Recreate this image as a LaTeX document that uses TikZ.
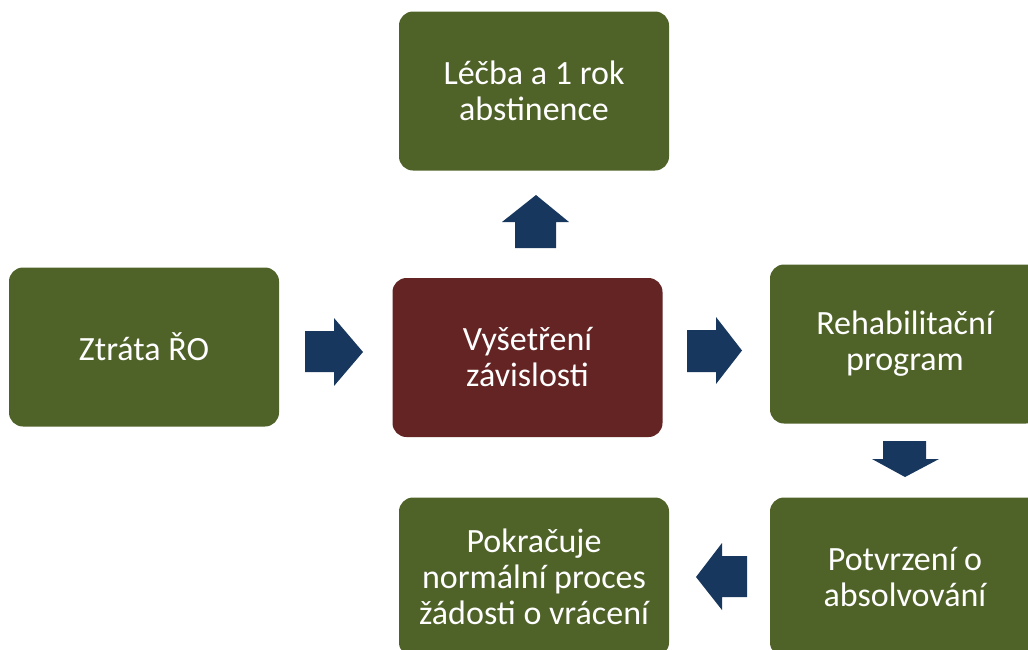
\documentclass[tikz,border=0pt]{standalone}
\usepackage{fontspec}
\setmainfont{Carlito}
\definecolor{boxgreen}{HTML}{4F6228}
\definecolor{boxred}{HTML}{632423}
\definecolor{arrowblue}{HTML}{17375E}
\begin{document}
\begin{tikzpicture}[x=1pt,y=-1pt,
  box/.style={fill=boxgreen,rounded corners=14pt,minimum width=270pt,minimum height=159pt,
    text=white,align=center,inner sep=0pt,font=\fontsize{34}{36}\selectfont},
  blockarrow/.style={fill=arrowblue,draw=none}]
\useasboundingbox (0,0) rectangle (1028,649);
\clip (0,0) rectangle (1028,649);
\node[box] (treat) at (534,91) {Léčba a 1 rok\\abstinence};
\node[box] (loss) at (144,347) {Ztráta ŘO};
\node[box,fill=boxred] (exam) at (527.5,357.5) {Vyšetření\\závislosti};
\node[box] (rehab) at (905,344) {Rehabilitační\\program};
\node[box] (confirm) at (905,577) {Potvrzení o\\absolvování};
\node[box] (cont) at (534,577) {Pokračuje\\normální proces\\žádosti o vrácení};
% up arrow
\fill[blockarrow] (515,248) -- (515,222) -- (502,222) -- (536,195) -- (569,222) -- (556,222) -- (556,248) -- cycle;
% right arrow 1
\fill[blockarrow] (305,331) -- (334,331) -- (334,318) -- (363,352) -- (334,386) -- (334,372) -- (305,372) -- cycle;
% right arrow 2
\fill[blockarrow] (687,330) -- (716,330) -- (716,317) -- (742,350.5) -- (716,384) -- (716,372) -- (687,372) -- cycle;
% down arrow
\fill[blockarrow] (883,441) -- (926,441) -- (926,459) -- (939,459) -- (905,477) -- (872,459) -- (883,459) -- cycle;
% left arrow
\fill[blockarrow] (747,556) -- (722,556) -- (722,543) -- (696,577) -- (722,610) -- (722,597) -- (747,597) -- cycle;
\end{tikzpicture}
\end{document}
